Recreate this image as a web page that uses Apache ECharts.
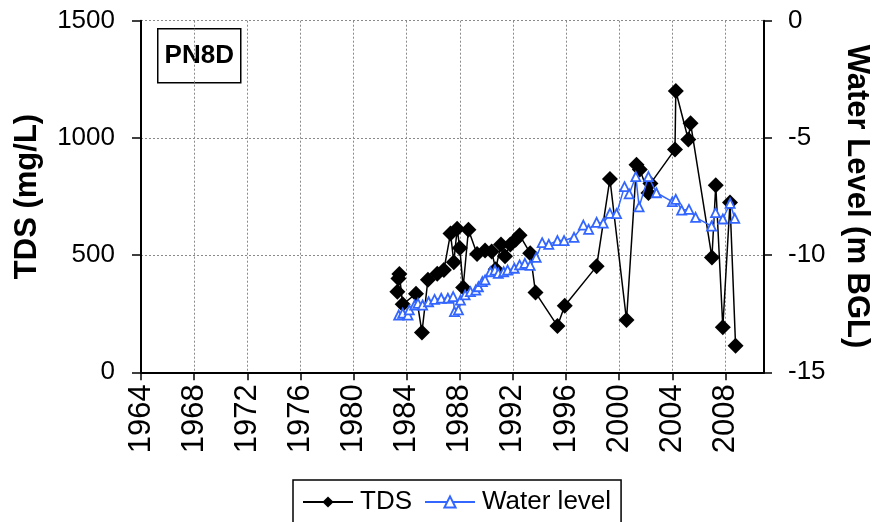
<!DOCTYPE html>
<html>
<head>
<meta charset="utf-8">
<script src="https://cdn.jsdelivr.net/npm/echarts@6/dist/echarts.min.js"></script>
<style>html,body{margin:0;padding:0;background:#fff}#c{width:880px;height:522px}</style>
</head>
<body>
<div id="c"></div>
<script>
const tdsYears = [1983.3,1983.38,1983.45,1983.7,1984.7,1985.15,1985.6,1986.3,1986.8,1987.3,1987.55,1987.8,1988.0,1988.25,1988.65,1989.3,1989.9,1990.4,1990.7,1991.1,1991.4,1991.8,1992.2,1992.5,1993.3,1993.7,1995.35,1995.9,1998.3,1999.3,2000.55,2001.3,2001.55,2002.2,2002.35,2004.2,2004.26,2005.2,2005.37,2006.98,2007.27,2007.8,2008.34,2008.76];
const tdsValues = [344,400,419,290,335,170,395,420,436,592,470,612,530,362,608,505,520,515,440,545,495,545,565,585,508,340,198,284,452,825,223,885,865,765,805,951,1200,993,1063,490,798,192,724,113];
const wlYears = [1983.4,1983.7,1984.1,1984.2,1984.6,1984.85,1985.2,1985.65,1986.1,1986.6,1987.1,1987.5,1987.6,1987.9,1988.05,1988.4,1988.8,1989.2,1989.4,1989.7,1989.9,1990.3,1990.65,1990.9,1991.3,1991.6,1992.1,1992.5,1992.9,1993.3,1993.75,1994.2,1994.7,1995.35,1995.85,1996.6,1997.3,1997.7,1998.3,1998.8,1999.3,1999.8,2000.4,2000.75,2001.25,2001.5,2002.2,2002.8,2004.0,2004.26,2004.7,2005.25,2005.75,2006.95,2007.25,2007.8,2008.35,2008.7];
const wlValues = [-12.56,-12.48,-12.56,-12.34,-12.13,-12.06,-12.13,-11.99,-11.89,-11.84,-11.84,-11.77,-12.41,-12.34,-11.92,-11.70,-11.56,-11.49,-11.35,-11.13,-11.06,-10.71,-10.64,-10.78,-10.71,-10.64,-10.56,-10.42,-10.35,-10.44,-10.10,-9.47,-9.54,-9.38,-9.38,-9.24,-8.72,-8.90,-8.60,-8.64,-8.22,-8.23,-7.08,-7.39,-6.65,-7.94,-6.65,-7.34,-7.72,-7.62,-8.08,-8.05,-8.39,-8.76,-8.19,-8.46,-7.79,-8.43];
const xTicks = {min:1964, max:2010.9, interval:4};
const tdsTicks = {min:0, max:1500, interval:500};
const wlTicks = {min:-15, max:0, interval:5};
const seriesNames = ['TDS','Water level'];
const stationLabel = 'PN8D';

const FONT = "'Liberation Sans', Arial, sans-serif";
const tdsData = tdsYears.map((y,i)=>[y, tdsValues[i]]);
const wlData = wlYears.map((y,i)=>[y, wlValues[i]]);
const dotted = {show:true, lineStyle:{color:'#8a8a8a', type:[2,2], width:1}};

const chart = echarts.init(document.getElementById('c'), null, {renderer:'canvas'});
chart.setOption({
  backgroundColor:'#fff',
  animation:false,
  textStyle:{fontFamily:FONT},
  grid:{left:141, right:107.5, top:20.7, bottom:149.7, containLabel:false},
  xAxis:{
    type:'value', min:xTicks.min, max:xTicks.max, interval:xTicks.interval,
    axisLine:{show:true, onZero:false, lineStyle:{color:'#000', width:2}},
    axisTick:{show:true, length:8, lineStyle:{color:'#000', width:1.5}},
    axisLabel:{rotate:90, fontSize:31, color:'#000', margin:12, fontFamily:FONT, showMaxLabel:false, formatter:v=>String(v)},
    splitLine:dotted
  },
  yAxis:[{
    type:'value', min:tdsTicks.min, max:tdsTicks.max, interval:tdsTicks.interval,
    name:'TDS (mg/L)', nameLocation:'middle', nameRotate:90, nameGap:98,
    nameTextStyle:{fontSize:31, fontWeight:'bold', color:'#000', fontFamily:FONT},
    axisLine:{show:true, onZero:false, lineStyle:{color:'#000', width:2}},
    axisTick:{show:true, length:9, lineStyle:{color:'#000', width:1.5}},
    axisLabel:{fontSize:26, color:'#000', margin:26, fontFamily:FONT, formatter:v=>String(v)},
    splitLine:dotted
  },{
    type:'value', min:wlTicks.min, max:wlTicks.max, interval:wlTicks.interval, position:'right',
    name:'Water Level (m BGL)', nameLocation:'middle', nameRotate:-90, nameGap:77,
    nameTextStyle:{fontSize:31, fontWeight:'bold', color:'#000', fontFamily:FONT},
    axisLine:{show:true, onZero:false, lineStyle:{color:'#000', width:2}},
    axisTick:{show:true, length:8, lineStyle:{color:'#000', width:1.5}},
    axisLabel:{fontSize:26, color:'#000', margin:24, fontFamily:FONT, formatter:v=>String(v)},
    splitLine:{show:false}
  }],
  legend:{
    left:293, top:480,
    padding:[9,10,20,9],
    borderColor:'#000', borderWidth:1.5,
    itemWidth:50, itemHeight:14, itemGap:12,
    textStyle:{fontSize:26, color:'#000', fontFamily:FONT, padding:[0,0,0,2]},
    data:seriesNames
  },
  graphic:[{
    type:'group', left:157, top:28,
    children:[
      {type:'rect', shape:{x:0,y:0,width:83,height:54}, style:{fill:'#fff', stroke:'#000', lineWidth:1.5}},
      {type:'text', x:41.5, y:27, style:{text:stationLabel, font:"bold 26px 'Liberation Sans', Arial, sans-serif", fill:'#000', align:'center', verticalAlign:'middle'}}
    ]
  }],
  series:[{
    name:seriesNames[0], type:'line', data:tdsData, yAxisIndex:0,
    symbol:'diamond', symbolSize:16, showAllSymbol:true,
    lineStyle:{color:'#000', width:1.5}, itemStyle:{color:'#000'}, z:3
  },{
    name:seriesNames[1], type:'line', data:wlData, yAxisIndex:1,
    symbol:'triangle', symbolSize:9, showAllSymbol:true,
    lineStyle:{color:'#3366ff', width:1.5}, itemStyle:{color:'#fff', borderColor:'#3366ff', borderWidth:1.8}, z:4
  }]
});
</script>
</body>
</html>
